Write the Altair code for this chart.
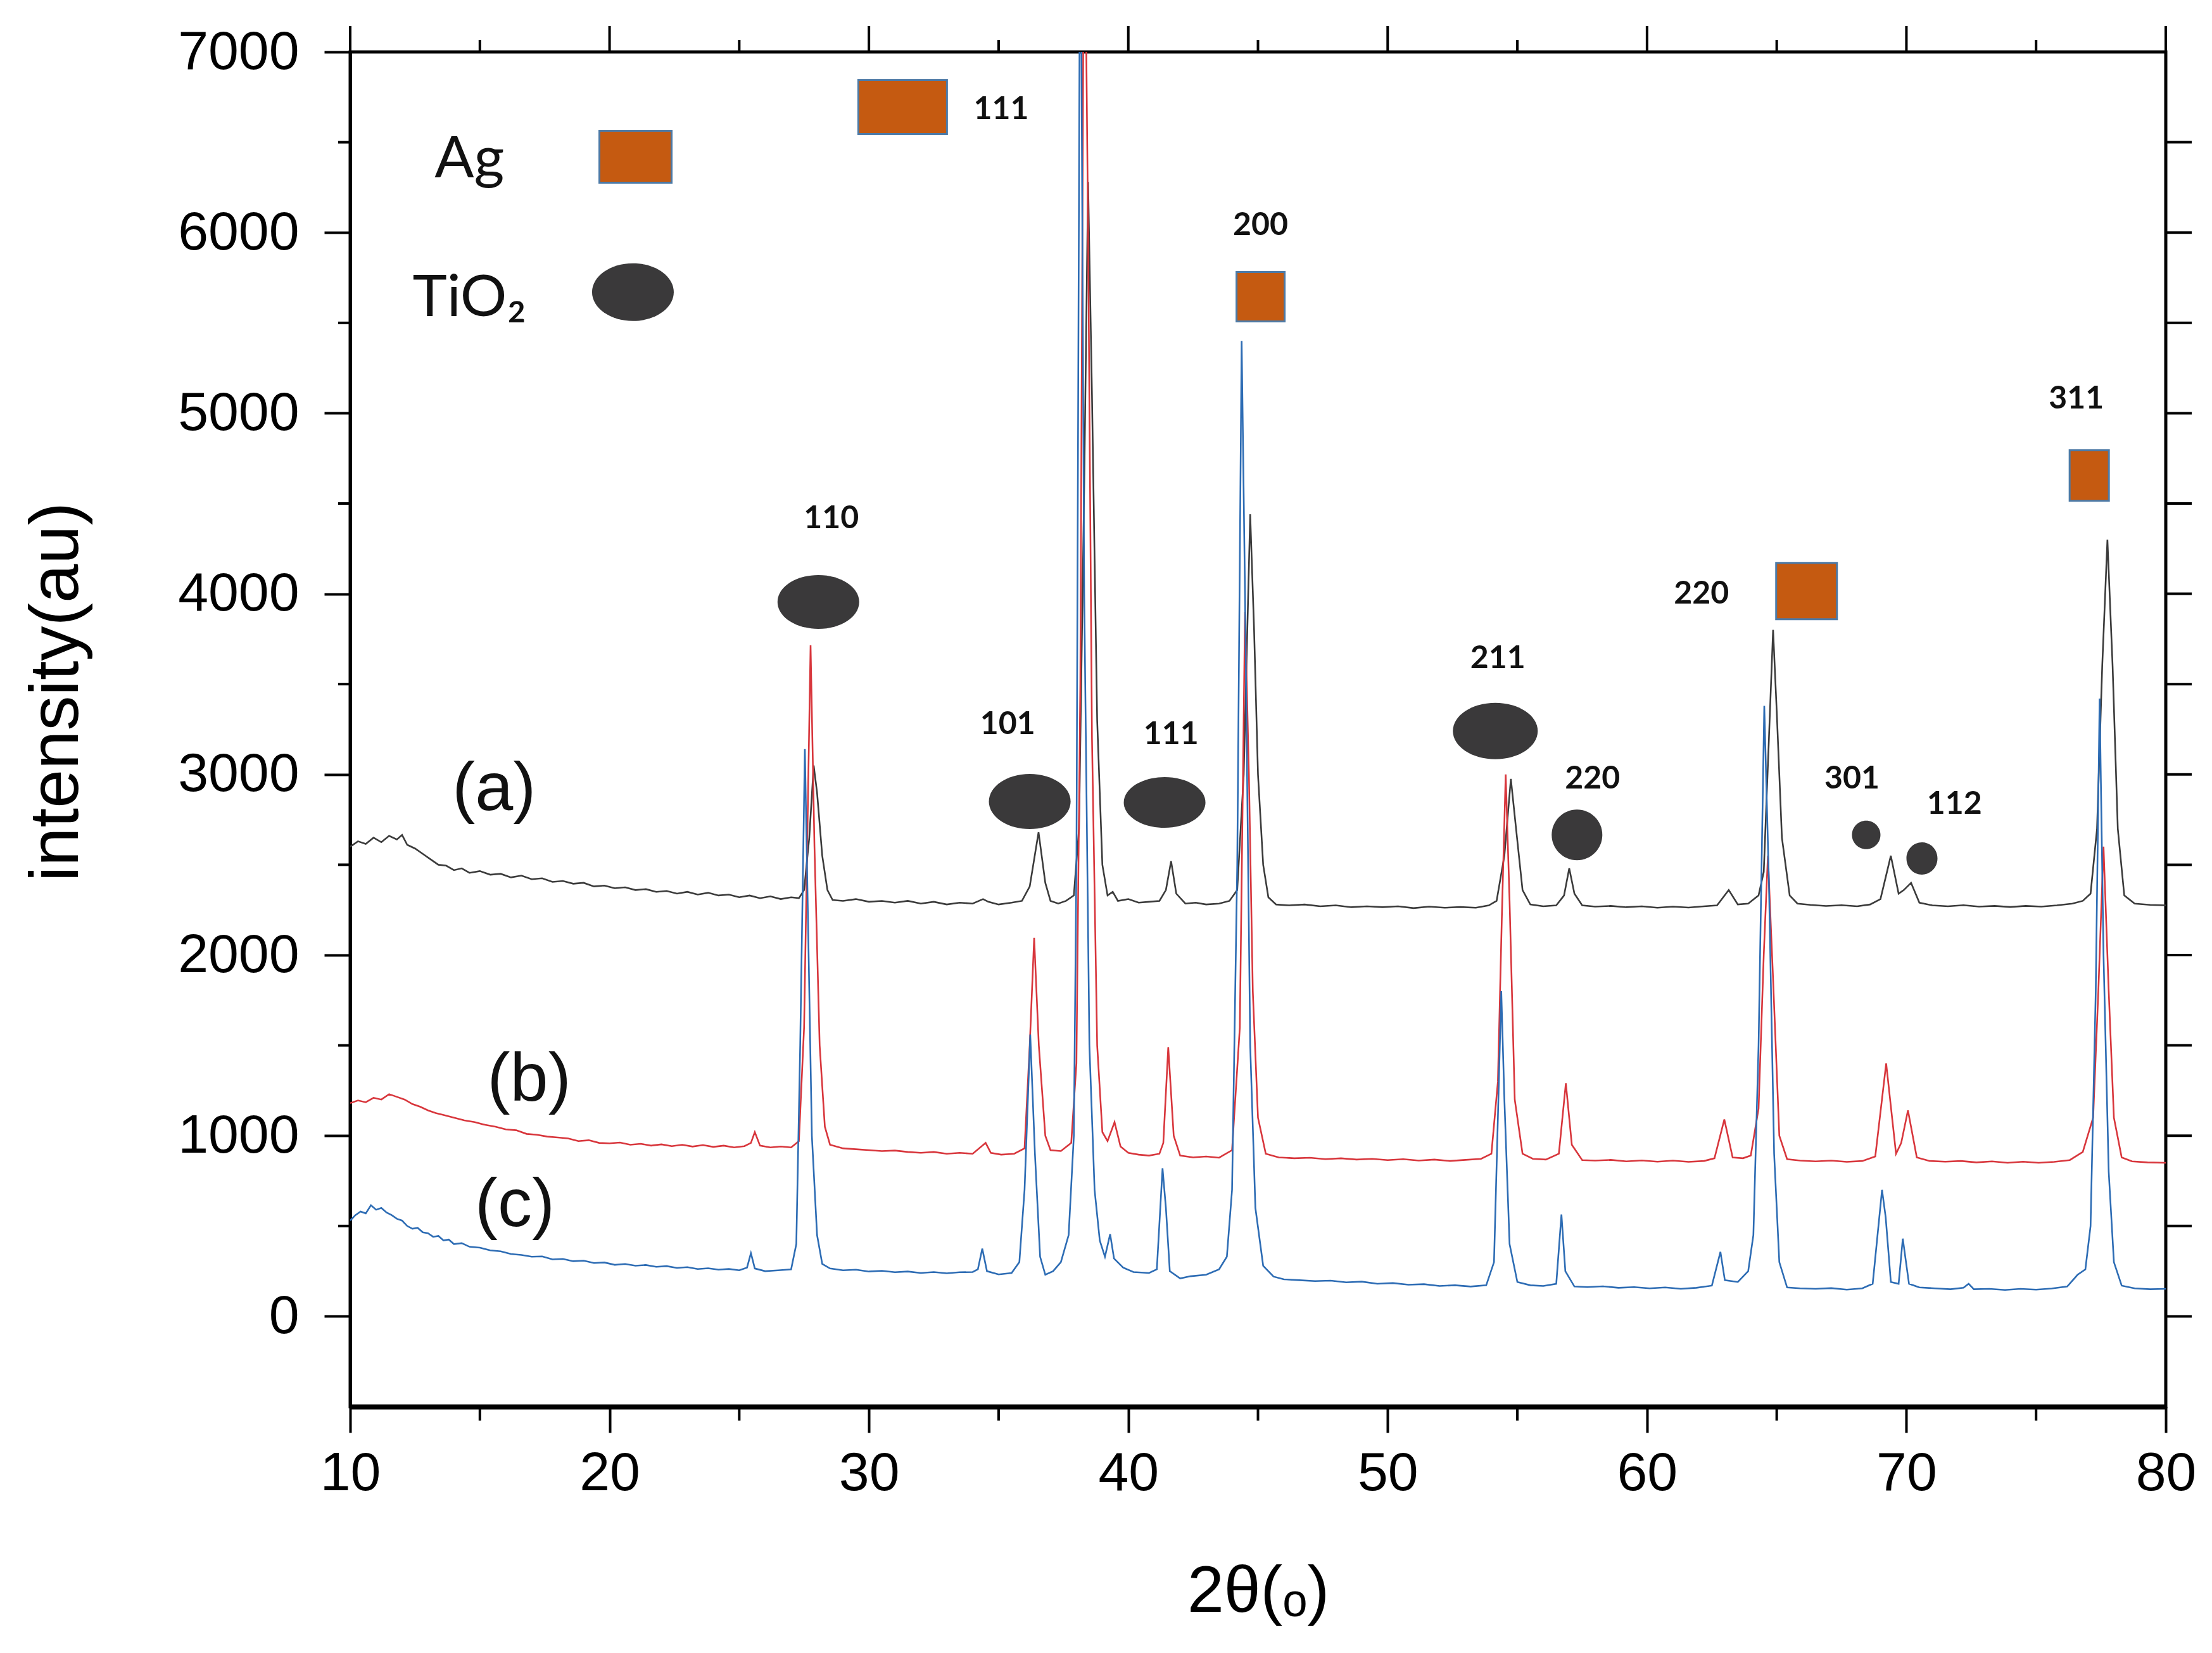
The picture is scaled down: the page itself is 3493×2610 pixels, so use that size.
import altair as alt
import pandas as pd

# ---------------------------------------------------------------- data
# XRD traces: (2theta, intensity)
TRACE_A = [
    (10.0, 2600), (10.3, 2630), (10.6, 2615), (10.9, 2650), (11.2, 2625), (11.5, 2660),
    (11.8, 2640), (12.0, 2665), (12.2, 2610), (12.5, 2590), (12.8, 2560), (13.1, 2530),
    (13.4, 2500), (13.7, 2495), (14.0, 2470), (14.3, 2480), (14.6, 2455), (15.0, 2465),
    (15.4, 2445), (15.8, 2450), (16.2, 2430), (16.6, 2440), (17.0, 2420), (17.4, 2425),
    (17.8, 2405), (18.2, 2410), (18.6, 2395), (19.0, 2400), (19.4, 2380), (19.8, 2385),
    (20.2, 2370), (20.6, 2375), (21.0, 2360), (21.4, 2365), (21.8, 2350), (22.2, 2355),
    (22.6, 2340), (23.0, 2350), (23.4, 2335), (23.8, 2345), (24.2, 2330), (24.6, 2335),
    (25.0, 2320), (25.4, 2330), (25.8, 2315), (26.2, 2325), (26.6, 2310), (27.0, 2320),
    (27.3, 2315), (27.5, 2360), (27.7, 2650), (27.87, 3050), (28.0, 2900), (28.2, 2550),
    (28.4, 2360), (28.6, 2305), (29.0, 2300), (29.5, 2310), (30.0, 2295), (30.5, 2300),
    (31.0, 2290), (31.5, 2300), (32.0, 2285), (32.5, 2295), (33.0, 2280), (33.5, 2290),
    (34.0, 2285), (34.4, 2310), (34.6, 2295), (35.0, 2280), (35.5, 2290), (35.9, 2300),
    (36.2, 2380), (36.54, 2680), (36.8, 2400), (37.0, 2300), (37.3, 2285), (37.6, 2300),
    (37.9, 2330), (38.1, 2700), (38.3, 4600), (38.45, 6280), (38.6, 5100), (38.8, 3300),
    (39.0, 2500), (39.2, 2330), (39.4, 2350), (39.6, 2300), (40.0, 2310), (40.4, 2290),
    (40.8, 2295), (41.2, 2300), (41.45, 2360), (41.65, 2520), (41.85, 2340), (42.2, 2285),
    (42.6, 2290), (43.0, 2280), (43.5, 2285), (43.9, 2300), (44.2, 2360), (44.45, 3000),
    (44.7, 4440), (44.85, 3800), (45.0, 3000), (45.2, 2500), (45.4, 2320), (45.7, 2280),
    (46.2, 2275), (46.8, 2280), (47.4, 2270), (48.0, 2275), (48.6, 2265), (49.2, 2270),
    (49.8, 2265), (50.4, 2270), (51.0, 2260), (51.6, 2268), (52.2, 2262), (52.8, 2266),
    (53.4, 2262), (53.9, 2275), (54.2, 2300), (54.5, 2550), (54.75, 2975), (54.95, 2700),
    (55.2, 2360), (55.5, 2280), (56.0, 2270), (56.5, 2275), (56.8, 2330), (57.0, 2480),
    (57.2, 2340), (57.5, 2275), (58.0, 2268), (58.6, 2272), (59.2, 2265), (59.8, 2270),
    (60.4, 2262), (61.0, 2268), (61.6, 2263), (62.2, 2270), (62.7, 2275), (63.15, 2360),
    (63.5, 2280), (63.9, 2285), (64.3, 2330), (64.5, 2460), (64.7, 3200), (64.86, 3800),
    (65.0, 3350), (65.2, 2650), (65.5, 2330), (65.8, 2285), (66.3, 2278), (66.9, 2272),
    (67.5, 2276), (68.1, 2270), (68.6, 2280), (69.0, 2310), (69.4, 2550), (69.7, 2340),
    (69.9, 2360), (70.18, 2400), (70.5, 2290), (71.0, 2275), (71.6, 2270), (72.2, 2276),
    (72.8, 2268), (73.4, 2272), (74.0, 2266), (74.6, 2272), (75.2, 2268), (75.8, 2275),
    (76.4, 2285), (76.8, 2300), (77.1, 2340), (77.35, 2700), (77.55, 3600), (77.75, 4300),
    (77.95, 3600), (78.15, 2700), (78.4, 2330), (78.8, 2285), (79.4, 2278), (80.0, 2275),
]

TRACE_B = [
    (10.0, 1180), (10.3, 1195), (10.6, 1185), (10.9, 1210), (11.2, 1200), (11.5, 1230),
    (11.8, 1215), (12.1, 1200), (12.4, 1175), (12.7, 1160), (13.0, 1140), (13.3, 1125),
    (13.6, 1115), (14.0, 1100), (14.4, 1085), (14.8, 1075), (15.2, 1060), (15.6, 1050),
    (16.0, 1035), (16.4, 1030), (16.8, 1010), (17.2, 1005), (17.6, 995), (18.0, 990),
    (18.4, 985), (18.8, 970), (19.2, 975), (19.6, 960), (20.0, 958), (20.4, 962),
    (20.8, 950), (21.2, 955), (21.6, 945), (22.0, 952), (22.4, 942), (22.8, 950),
    (23.2, 940), (23.6, 948), (24.0, 938), (24.4, 945), (24.8, 935), (25.2, 942),
    (25.45, 960), (25.6, 1020), (25.8, 945), (26.2, 935), (26.6, 940), (27.0, 935),
    (27.3, 970), (27.5, 1600), (27.75, 3715), (27.9, 2600), (28.1, 1500), (28.3, 1050),
    (28.5, 950), (29.0, 930), (29.5, 925), (30.0, 920), (30.5, 915), (31.0, 918),
    (31.5, 910), (32.0, 905), (32.5, 910), (33.0, 900), (33.5, 905), (34.0, 900),
    (34.5, 960), (34.7, 905), (35.1, 895), (35.6, 900), (36.0, 930), (36.2, 1500),
    (36.37, 2095), (36.55, 1500), (36.8, 1000), (37.0, 920), (37.4, 915), (37.8, 960),
    (38.0, 1400), (38.15, 3500), (38.3, 8200), (38.45, 6000), (38.6, 3200), (38.8, 1500),
    (39.0, 1020), (39.2, 970), (39.47, 1075), (39.7, 940), (40.0, 905), (40.4, 895),
    (40.8, 890), (41.2, 900), (41.35, 960), (41.54, 1490), (41.75, 1000), (42.0, 890),
    (42.5, 880), (43.0, 885), (43.5, 878), (44.0, 920), (44.3, 1600), (44.5, 3900),
    (44.65, 3000), (44.8, 1800), (45.0, 1100), (45.3, 900), (45.8, 880), (46.4, 875),
    (47.0, 878), (47.6, 870), (48.2, 875), (48.8, 868), (49.4, 872), (50.0, 865),
    (50.6, 870), (51.2, 862), (51.8, 868), (52.4, 860), (53.0, 866), (53.6, 872),
    (54.0, 900), (54.25, 1300), (54.4, 2200), (54.55, 3000), (54.7, 2300), (54.9, 1200),
    (55.2, 900), (55.6, 872), (56.1, 868), (56.6, 900), (56.87, 1290), (57.1, 950),
    (57.5, 865), (58.0, 862), (58.6, 866), (59.2, 858), (59.8, 863), (60.4, 856),
    (61.0, 862), (61.6, 855), (62.2, 860), (62.6, 875), (62.98, 1090), (63.3, 880),
    (63.7, 875), (64.0, 890), (64.3, 1150), (64.5, 2000), (64.66, 2550), (64.85, 1900),
    (65.1, 1000), (65.4, 870), (65.9, 862), (66.5, 858), (67.1, 862), (67.7, 855),
    (68.3, 860), (68.8, 885), (69.22, 1400), (69.6, 900), (69.8, 960), (70.06, 1140),
    (70.4, 880), (70.9, 860), (71.5, 856), (72.1, 860), (72.7, 852), (73.3, 858),
    (73.9, 850), (74.5, 856), (75.1, 850), (75.7, 855), (76.3, 865), (76.8, 910),
    (77.2, 1100), (77.4, 1800), (77.6, 2600), (77.8, 1800), (78.0, 1100), (78.3, 880),
    (78.7, 858), (79.3, 852), (80.0, 850),
]

TRACE_C = [
    (10.0, 530), (10.2, 560), (10.4, 580), (10.6, 570), (10.8, 615), (11.0, 590),
    (11.2, 600), (11.4, 575), (11.6, 560), (11.8, 540), (12.0, 530), (12.2, 500),
    (12.4, 485), (12.6, 490), (12.8, 465), (13.0, 460), (13.2, 440), (13.4, 445),
    (13.6, 420), (13.8, 425), (14.0, 400), (14.3, 405), (14.6, 385), (15.0, 380),
    (15.4, 365), (15.8, 360), (16.2, 345), (16.6, 340), (17.0, 330), (17.4, 332),
    (17.8, 315), (18.2, 318), (18.6, 305), (19.0, 308), (19.4, 295), (19.8, 298),
    (20.2, 285), (20.6, 290), (21.0, 280), (21.4, 284), (21.8, 274), (22.2, 278),
    (22.6, 268), (23.0, 272), (23.4, 262), (23.8, 266), (24.2, 258), (24.6, 262),
    (25.0, 255), (25.3, 270), (25.45, 350), (25.6, 265), (26.0, 250), (26.5, 255),
    (27.0, 260), (27.2, 400), (27.35, 1500), (27.53, 3140), (27.65, 2200), (27.8, 1000),
    (28.0, 450), (28.2, 290), (28.5, 265), (29.0, 255), (29.5, 258), (30.0, 248),
    (30.5, 252), (31.0, 244), (31.5, 248), (32.0, 240), (32.5, 245), (33.0, 238),
    (33.5, 244), (34.0, 245), (34.2, 260), (34.37, 375), (34.55, 250), (35.0, 232),
    (35.5, 240), (35.8, 300), (36.0, 700), (36.22, 1560), (36.4, 900), (36.6, 330),
    (36.8, 230), (37.1, 250), (37.4, 300), (37.7, 450), (37.9, 1000), (38.0, 2500),
    (38.15, 8200), (38.3, 4000), (38.5, 1500), (38.7, 700), (38.9, 420), (39.1, 330),
    (39.3, 455), (39.45, 320), (39.8, 270), (40.2, 245), (40.8, 240), (41.1, 260),
    (41.32, 820), (41.45, 600), (41.6, 250), (42.0, 210), (42.4, 222), (43.0, 230),
    (43.5, 260), (43.8, 330), (44.0, 700), (44.2, 2500), (44.37, 5400), (44.5, 4000),
    (44.7, 1500), (44.9, 600), (45.2, 280), (45.6, 220), (46.0, 205), (46.6, 200),
    (47.2, 195), (47.8, 198), (48.4, 188), (49.0, 192), (49.6, 180), (50.2, 184),
    (50.8, 175), (51.4, 178), (52.0, 168), (52.6, 172), (53.2, 165), (53.8, 172),
    (54.1, 300), (54.25, 1100), (54.38, 1800), (54.5, 1200), (54.7, 400), (55.0, 190),
    (55.5, 172), (56.0, 168), (56.5, 180), (56.7, 564), (56.85, 250), (57.2, 165),
    (57.7, 162), (58.3, 166), (58.9, 158), (59.5, 162), (60.1, 155), (60.7, 160),
    (61.3, 152), (61.9, 158), (62.5, 170), (62.83, 357), (63.0, 200), (63.5, 190),
    (63.9, 250), (64.1, 450), (64.3, 1500), (64.52, 3380), (64.7, 2400), (64.9, 900),
    (65.1, 300), (65.4, 160), (65.9, 155), (66.5, 152), (67.1, 156), (67.7, 148),
    (68.3, 155), (68.7, 180), (69.06, 700), (69.2, 550), (69.4, 190), (69.7, 180),
    (69.86, 430), (70.1, 180), (70.5, 160), (71.1, 155), (71.7, 150), (72.2, 158),
    (72.4, 180), (72.6, 150), (73.2, 152), (73.8, 146), (74.4, 152), (75.0, 148),
    (75.6, 154), (76.2, 165), (76.6, 230), (76.9, 260), (77.1, 500), (77.3, 1800),
    (77.45, 3420), (77.6, 2000), (77.8, 800), (78.0, 300), (78.3, 170), (78.8, 155),
    (79.4, 150), (80.0, 152),
]

# phase markers (centre positions in data units)
AG_X = [21.0, 31.3, 45.1, 66.15, 77.05]
AG_Y = [6420, 6695, 5645, 4015, 4655]
TIO2_X = [20.9, 28.05, 36.2, 41.4, 54.15, 57.3, 68.45, 70.6]
TIO2_Y = [5670, 3955, 2850, 2845, 3240, 2665, 2665, 2535]

# Miller indices
HKL_TEXT = ["111", "200", "110", "101", "111", "211", "220", "220", "301", "112", "311"]
HKL_X = [35.1, 45.1, 28.55, 35.35, 41.65, 54.25, 57.9, 62.1, 67.9, 71.85, 76.55]
HKL_Y = [6680, 6040, 4415, 3275, 3220, 3640, 2975, 4000, 2975, 2835, 5080]

PHASE_TEXT = ["Ag", "TiO₂"]
PHASE_X = [14.6, 14.6]
PHASE_Y = [6405, 5635]

SAMPLE_TEXT = ["(a)", "(b)", "(c)"]
SAMPLE_X = [15.55, 16.9, 16.35]
SAMPLE_Y = [2915, 1305, 610]

X_MAJOR = list(range(10, 81, 10))
X_MINOR = list(range(15, 80, 10))
Y_MAJOR = list(range(0, 7001, 1000))
Y_MINOR = list(range(500, 7000, 1000))
Y_RIGHT = list(range(0, 7000, 500))

# ---------------------------------------------------------------- style
W, H = 2867, 2139
INK = "#000000"
TRACE_COLORS = ["#3b3b3b", "#d8363c", "#2d6cb4"]
AG_FILL = "#c55a11"
AG_EDGE = "#4d7aa6"
TIO2_FILL = "#3a393a"
SANS = "Liberation Sans"
CALIBRI_LIKE = "Lato"

# marker box sizes in px (width, height)
AG_SIZE = [(114, 82), (140, 85), (76, 78), (96, 89), (62, 80)]
TIO2_SIZE = [(129, 91), (129, 85), (129, 87), (129, 80), (134, 89), (80, 80), (45, 45), (49, 51)]


def rect_path(w, h):
    s = max(w, h)
    a, b = w / s, h / s
    return f"M{-a:.3f},{-b:.3f}L{a:.3f},{-b:.3f}L{a:.3f},{b:.3f}L{-a:.3f},{b:.3f}Z", s * s


def ellipse_path(w, h):
    s = max(w, h)
    a, b = w / s, h / s
    return (f"M{-a:.3f},0A{a:.3f},{b:.3f},0,1,1,{a:.3f},0"
            f"A{a:.3f},{b:.3f},0,1,1,{-a:.3f},0Z"), s * s


X_SCALE = alt.Scale(domain=[10, 80], nice=False, zero=False)
Y_SCALE = alt.Scale(domain=[-500, 7000], nice=False, zero=False)

# ---------------------------------------------------------------- tables
rows = []
for name, trace in zip(["(a)", "(b)", "(c)"], [TRACE_A, TRACE_B, TRACE_C]):
    for t, v in trace:
        rows.append({"theta": t, "intensity": v, "sample": name})
traces = pd.DataFrame(rows)

marks = []
for x, y, (w, h) in zip(AG_X, AG_Y, AG_SIZE):
    p, s = rect_path(w, h)
    marks.append({"x": x, "y": y, "shape": p, "size": s, "phase": "Ag"})
for x, y, (w, h) in zip(TIO2_X, TIO2_Y, TIO2_SIZE):
    p, s = ellipse_path(w, h)
    marks.append({"x": x, "y": y, "shape": p, "size": s, "phase": "TiO2"})
marks = pd.DataFrame(marks)

hkl = pd.DataFrame({"x": HKL_X, "y": HKL_Y, "t": HKL_TEXT})
phase = pd.DataFrame({"x": PHASE_X, "y": PHASE_Y, "t": PHASE_TEXT})
sample = pd.DataFrame({"x": SAMPLE_X, "y": SAMPLE_Y, "t": SAMPLE_TEXT})

# ---------------------------------------------------------------- chart
x_axis = alt.Axis(
    values=X_MAJOR, format="d", title="2θ(ₒ)", grid=False,
    domainColor=INK, domainWidth=8, tickColor=INK, tickWidth=4, tickSize=41,
    labelFont=SANS, labelFontSize=86, labelColor=INK, labelPadding=22,
    labelFlush=False, labelLimit=0, titleFont=SANS, titleFontSize=104,
    titleFontWeight="normal", titleColor=INK, titleBaseline="middle", titleY=292,
)
y_axis = alt.Axis(
    values=Y_MAJOR, format="d", title="intensity(au)", grid=False,
    domainColor=INK, domainWidth=5, tickColor=INK, tickWidth=4, tickSize=41,
    labelFont=SANS, labelFontSize=86, labelColor=INK, labelPadding=40,
    labelFlush=False, labelLimit=0, titleFont=SANS, titleFontSize=110,
    titleFontWeight="normal", titleColor=INK, titleBaseline="middle",
    titleX=-464, titleY=1010, titleLimit=0,
)

lines = alt.Chart(traces).mark_line(clip=True, strokeWidth=2.6).encode(
    x=alt.X("theta:Q", scale=X_SCALE, axis=x_axis),
    y=alt.Y("intensity:Q", scale=Y_SCALE, axis=y_axis),
    color=alt.Color("sample:N", scale=alt.Scale(domain=["(a)", "(b)", "(c)"],
                                                range=TRACE_COLORS), legend=None),
    order=alt.Order("theta:Q"),
)

ag = alt.Chart(marks[marks.phase == "Ag"]).mark_point(
    filled=True, fill=AG_FILL, fillOpacity=1, stroke=AG_EDGE, strokeWidth=3, opacity=1,
).encode(
    x=alt.X("x:Q", scale=X_SCALE), y=alt.Y("y:Q", scale=Y_SCALE),
    shape=alt.Shape("shape:N", scale=None), size=alt.Size("size:Q", scale=None),
)
tio2 = alt.Chart(marks[marks.phase == "TiO2"]).mark_point(
    filled=True, fill=TIO2_FILL, fillOpacity=1, strokeWidth=0, opacity=1,
).encode(
    x=alt.X("x:Q", scale=X_SCALE), y=alt.Y("y:Q", scale=Y_SCALE),
    shape=alt.Shape("shape:N", scale=None), size=alt.Size("size:Q", scale=None),
)

hkl_text = alt.Chart(hkl).mark_text(
    font=CALIBRI_LIKE, fontSize=50, fontWeight="bold", color="#111111",
    align="center", baseline="middle",
).encode(x=alt.X("x:Q", scale=X_SCALE), y=alt.Y("y:Q", scale=Y_SCALE), text="t:N")

phase_text = alt.Chart(phase).mark_text(
    font=CALIBRI_LIKE, fontSize=92, color="#111111", align="center", baseline="middle",
).encode(x=alt.X("x:Q", scale=X_SCALE), y=alt.Y("y:Q", scale=Y_SCALE), text="t:N")

sample_text = alt.Chart(sample).mark_text(
    font=SANS, fontSize=108, color="#111111", align="center", baseline="middle",
).encode(x=alt.X("x:Q", scale=X_SCALE), y=alt.Y("y:Q", scale=Y_SCALE), text="t:N")

# frame ticks that the axes do not draw
left_minor = alt.Chart(pd.DataFrame({"v": Y_MINOR})).mark_rule(
    color=INK, strokeWidth=4).encode(
    y=alt.Y("v:Q", scale=Y_SCALE), x=alt.value(-19), x2=alt.value(0))
bottom_minor = alt.Chart(pd.DataFrame({"v": X_MINOR})).mark_rule(
    color=INK, strokeWidth=4).encode(
    x=alt.X("v:Q", scale=X_SCALE), y=alt.value(H), y2=alt.value(H + 22))
top_major = alt.Chart(pd.DataFrame({"v": X_MAJOR})).mark_rule(
    color=INK, strokeWidth=4).encode(
    x=alt.X("v:Q", scale=X_SCALE), y=alt.value(-41), y2=alt.value(0))
top_minor = alt.Chart(pd.DataFrame({"v": X_MINOR})).mark_rule(
    color=INK, strokeWidth=4).encode(
    x=alt.X("v:Q", scale=X_SCALE), y=alt.value(-19), y2=alt.value(0))
right_ticks = alt.Chart(pd.DataFrame({"v": Y_RIGHT})).mark_rule(
    color=INK, strokeWidth=4).encode(
    y=alt.Y("v:Q", scale=Y_SCALE), x=alt.value(W), x2=alt.value(W + 41))

chart = alt.layer(
    lines, ag, tio2, hkl_text, phase_text, sample_text,
    left_minor, bottom_minor, top_major, top_minor, right_ticks,
).properties(
    width=W, height=H,
    autosize=alt.AutoSizeParams(type="none"),
    padding={"left": 545, "top": 74, "right": 65, "bottom": 381},
    background="white",
).configure_view(stroke=INK, strokeWidth=5)

chart.save("out.html", embed_options={"renderer": "svg", "actions": False})
